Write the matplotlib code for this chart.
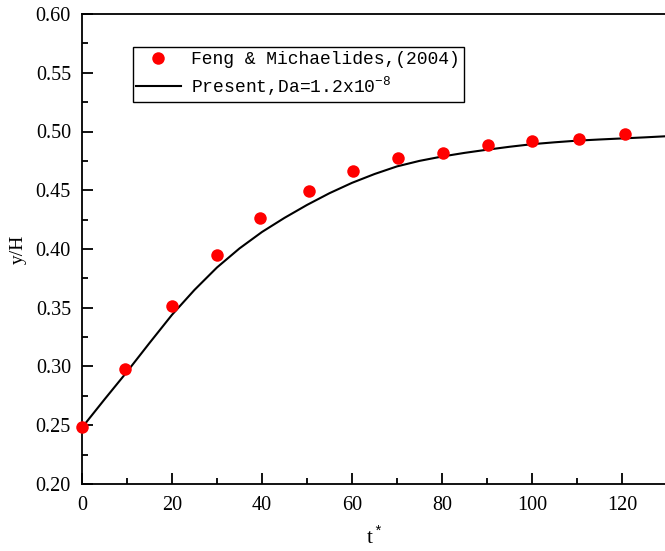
import matplotlib
matplotlib.use("Agg")
import matplotlib.pyplot as plt
from matplotlib.ticker import MultipleLocator, FormatStrFormatter

# Reference data (Feng & Michaelides, 2004)
ref_t = [0, 9.6, 19.9, 30.0, 39.6, 50.4, 60.2, 70.2, 80.2, 90.2, 100.1, 110.5, 120.7]
ref_y = [0.2483, 0.2977, 0.3511, 0.3949, 0.4265, 0.4491, 0.4668, 0.4773, 0.4821,
         0.4887, 0.4921, 0.4935, 0.4977]

# Present simulation
sim_t = [0, 5, 10, 15, 20, 25, 30, 35, 40, 45, 50, 55, 60, 65, 70, 75, 80, 85, 90,
         95, 100, 105, 110, 115, 120, 125, 130]
sim_y = [0.248, 0.272, 0.2955, 0.320, 0.344, 0.3652, 0.3843, 0.4005, 0.4145, 0.4265,
         0.4375, 0.4475, 0.4563, 0.4638, 0.4703, 0.4750, 0.4787, 0.4818, 0.4845,
         0.4870, 0.4892, 0.4908, 0.4922, 0.4932, 0.4941, 0.4950, 0.4960]

ref_label = "Feng & Michaelides,(2004)"
sim_label = "Present,Da=1.2x10$^{-8}$"

plt.rcParams['mathtext.fontset'] = 'custom'
plt.rcParams['mathtext.rm'] = 'Liberation Mono'
plt.rcParams['mathtext.it'] = 'Liberation Mono'

fig = plt.figure(figsize=(6.65, 5.51), dpi=100)
ax = fig.add_axes([82/665, 67/551, 585/665, 470/551])

ax.plot(sim_t, sim_y, color='black', lw=1.5, label=sim_label, zorder=2)
ax.plot(ref_t, ref_y, 'o', color='#ff0000', ms=9, mec='none', label=ref_label,
        zorder=3, clip_on=False)

ax.set_xlim(0, 130)
ax.set_ylim(0.20, 0.60)
ax.xaxis.set_major_locator(MultipleLocator(20))
ax.xaxis.set_minor_locator(MultipleLocator(10))
ax.yaxis.set_major_locator(MultipleLocator(0.05))
ax.yaxis.set_minor_locator(MultipleLocator(0.025))
ax.yaxis.set_major_formatter(FormatStrFormatter('%.2f'))

for s in ax.spines.values():
    s.set_linewidth(1.3)
ax.spines['right'].set_visible(False)

ax.tick_params(which='both', direction='in', top=False, right=False, width=1.3)
ax.tick_params(which='major', length=8, labelsize=14.5, pad=8)
ax.tick_params(axis='x', which='major', pad=9)
ax.tick_params(which='minor', length=4.5)
for lab in ax.get_xticklabels() + ax.get_yticklabels():
    lab.set_fontfamily('Liberation Serif')

ax.set_xlabel('t$^*$', fontsize=15, family='Liberation Serif', labelpad=8)
ax.set_ylabel('y/H', fontsize=14, family='Liberation Serif', labelpad=6)

handles, labels = ax.get_legend_handles_labels()
leg = ax.legend(handles[::-1], labels[::-1], loc='upper left',
                bbox_to_anchor=(0.0867, 0.929), borderaxespad=0,
                prop={'family': 'Liberation Mono', 'size': 13},
                frameon=True, fancybox=False, edgecolor='black', framealpha=1,
                handlelength=2.45, handletextpad=0.6, borderpad=0.2,
                labelspacing=0.35, numpoints=1)
leg.get_frame().set_linewidth(1.0)

fig.savefig('out.png', dpi=100)
